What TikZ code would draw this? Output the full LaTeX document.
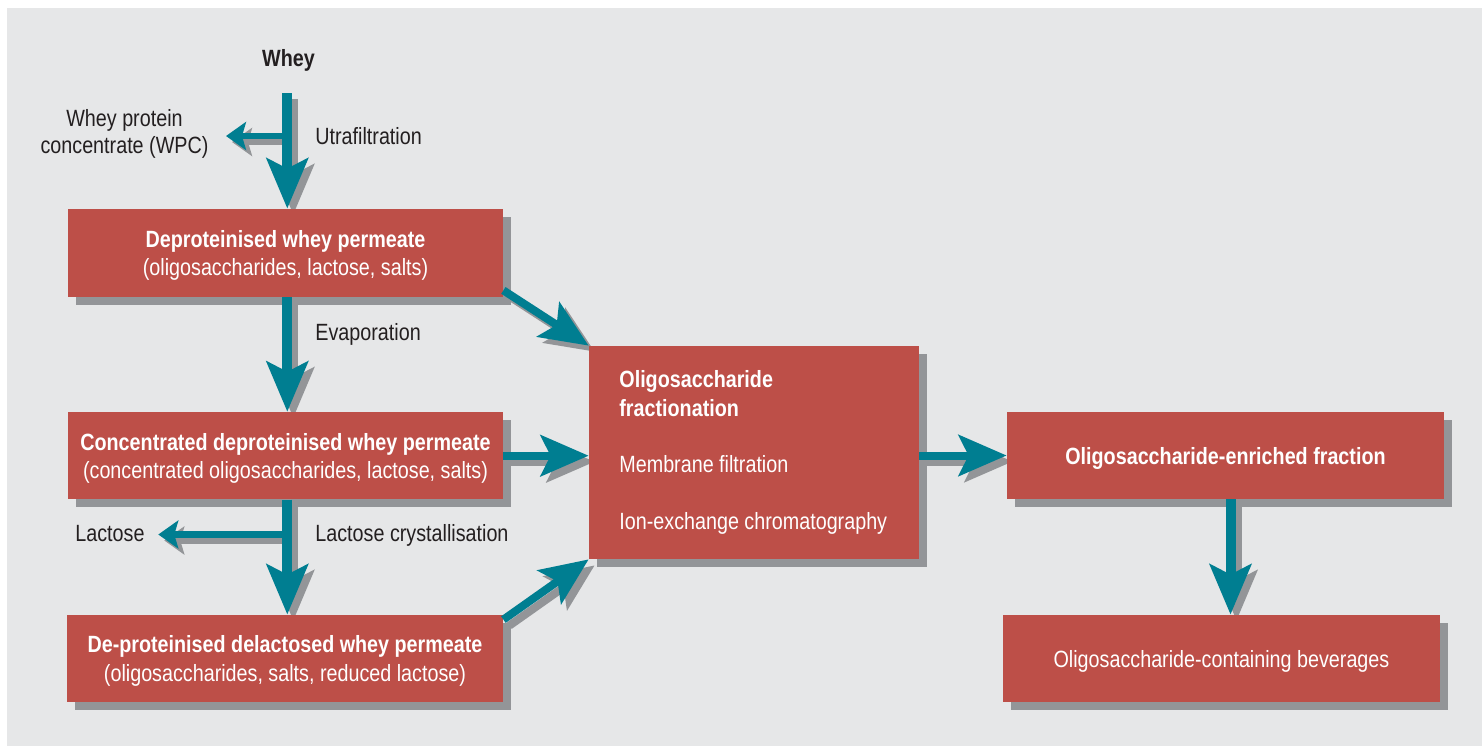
\documentclass[tikz,border=0pt]{standalone}
\usepackage{fontspec}
\setmainfont{Liberation Sans}[FakeStretch=0.84]
\usetikzlibrary{arrows.meta,shadows,calc}
\definecolor{bgc}{HTML}{E6E7E8}
\definecolor{boxred}{HTML}{BD4F48}
\definecolor{arrteal}{HTML}{007E91}
\definecolor{shgray}{HTML}{939598}
\definecolor{txtc}{HTML}{231F20}
\pgfdeclarelayer{back}
\pgfdeclarelayer{ashadow}
\pgfsetlayers{back,ashadow,main}
\tikzset{
  every node/.style={font=\fontsize{11.75pt}{14.15pt}\selectfont},
  box/.style={fill=boxred, text=white, align=center, inner sep=0pt, text depth=0pt,
    drop shadow={shadow xshift=4pt, shadow yshift=-4pt, fill=shgray, opacity=1}},
  lbl/.style={text=txtc, inner sep=0pt},
  wlbl/.style={text=white, inner sep=0pt, anchor=base west},
  bigarr/.style={line width=5pt, -{Stealth[length=25pt,width=20.5pt,inset=5pt]}},
  midarr/.style={line width=4pt, -{Stealth[length=24pt,width=20.5pt,inset=5pt]}},
  smallarr/.style={line width=3.25pt, -{Stealth[length=10pt,width=14pt,inset=2pt]}},
}
\newcommand\flowarrows{%
  \draw[bigarr] (s1) -- (s1 |- b1.north);
  \draw[smallarr] (s1 |- wpct) -- (wpct);
  \draw[bigarr] (s1 |- b1.south) -- (s1 |- b2.north);
  \draw[bigarr] (s1 |- b2.south) -- (s1 |- b3.north);
  \draw[smallarr] (s1 |- lact) -- (lact);
  \draw[midarr] ([yshift=3.5pt]b1.south east) -- (c.north west);
  \draw[midarr] (b2.east) -- (c.west |- b2.east);
  \draw[midarr] ([yshift=-2.5pt]b3.north east) -- (c.south west);
  \draw[midarr] (c.east |- e.west) -- (e.west);
  \draw[bigarr] ([xshift=2.5pt]e.south) -- ([xshift=2.5pt]e.south |- v.north);
}
\begin{document}
\begin{tikzpicture}[x=0.5pt,y=-0.5pt]
\useasboundingbox (0,0) rectangle (1484,746);
\begin{pgfonlayer}{back}
  \fill[bgc] (7,8) rectangle (1482,746);
\end{pgfonlayer}

% boxes
\node[box, minimum width=217.5pt, minimum height=44pt] (b1) at (285.5,253)
  {\textbf{Deproteinised whey permeate}\\(oligosaccharides, lactose, salts)};
\node[box, minimum width=217.5pt, minimum height=43.5pt] (b2) at (285.5,455.7)
  {\textbf{Concentrated deproteinised whey permeate}\\(concentrated oligosaccharides, lactose, salts)};
\node[box, minimum width=218pt, minimum height=43.5pt] (b3) at (285,658.5)
  {\textbf{De-proteinised delactosed whey permeate}\\(oligosaccharides, salts, reduced lactose)};
\node[box, minimum width=165pt, minimum height=106.5pt] (c) at (754,452.5) {};
\node[box, minimum width=218.5pt, minimum height=43.5pt] (e) at (1225.5,455.5)
  {\textbf{Oligosaccharide-enriched fraction}};
\node[box, minimum width=218.5pt, minimum height=43.5pt] (v) at (1221.5,658.5)
  {Oligosaccharide-containing beverages};

% texts in the fractionation box
\node[wlbl] (c1) at (619,387.3) {\textbf{Oligosaccharide}};
\node[wlbl] (c2) at (619,416) {\textbf{fractionation}};
\node[wlbl] (c3) at (619,472.7) {Membrane filtration};
\node[wlbl] (c4) at (619,529.3) {Ion-exchange chromatography};

% outside labels
\node[lbl, anchor=base] (whey) at (288.5,66.7) {\textbf{Whey}};
\node[lbl, anchor=base, align=center, font=\fontsize{11.75pt}{13.5pt}\selectfont] (wpc) at (124.5,153)
  {Whey protein\\concentrate (WPC)};
\node[lbl, anchor=base west] (uf) at (315,144.3) {Utrafiltration};
\node[lbl, anchor=base west] (ev) at (315,340) {Evaporation};
\node[lbl, anchor=base west] (lac) at (75,541.7) {Lactose};
\node[lbl, anchor=base west] (lcr) at (315,541.7) {Lactose crystallisation};

% connector end points
\coordinate (s1) at (287.3,93.3);
\coordinate (wpct) at (226,136);
\coordinate (lact) at (158.3,534.5);

\begin{pgfonlayer}{ashadow}
  \begin{scope}[color=shgray, transform canvas={shift={(3pt,-3pt)}}]
    \flowarrows
  \end{scope}
\end{pgfonlayer}
\begin{scope}[color=arrteal]
  \flowarrows
\end{scope}
\end{tikzpicture}
\end{document}
